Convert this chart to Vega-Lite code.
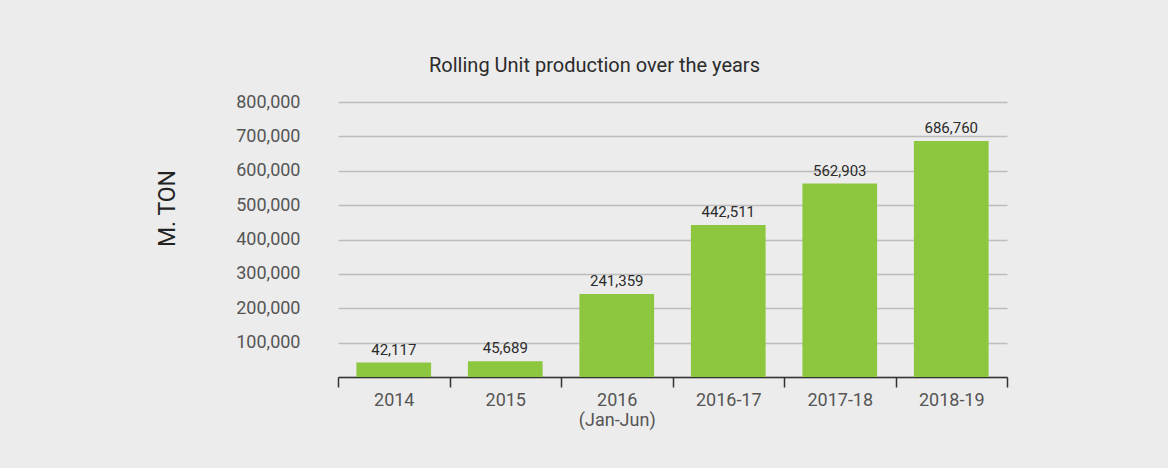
{
  "$schema": "https://vega.github.io/schema/vega-lite/v6.json",
  "autosize": {"type": "none"},
  "width": 669,
  "height": 275,
  "padding": {"left": 338, "top": 102, "right": 161, "bottom": 91},
  "background": "#ececec",
  "config": {
    "view": {"stroke": null},
    "font": "Roboto, sans-serif"
  },
  "title": {
    "text": "Rolling Unit production over the years",
    "fontSize": 20,
    "fontWeight": "normal",
    "color": "#2b2b2b",
    "anchor": "middle",
    "dx": -78,
    "offset": 17
  },
  "data": {
    "values": [
      {"period": "2014", "value": 42117},
      {"period": "2015", "value": 45689},
      {"period": "2016|(Jan-Jun)", "value": 241359},
      {"period": "2016-17", "value": 442511},
      {"period": "2017-18", "value": 562903},
      {"period": "2018-19", "value": 686760}
    ]
  },
  "encoding": {
    "x": {
      "field": "period",
      "type": "nominal",
      "sort": null,
      "scale": {"paddingInner": 0, "paddingOuter": 0},
      "axis": {
        "title": null,
        "labelAngle": 0,
        "labelExpr": "datum.value ? split(datum.value, '|') : ''",
        "labelFontSize": 18,
        "labelColor": "#555555",
        "labelPadding": 4,
        "labelLineHeight": 20,
        "domainColor": "#333333",
        "domainWidth": 1.5,
        "tickBand": "extent",
        "tickColor": "#333333",
        "tickWidth": 1.5,
        "tickSize": 10,
        "grid": false
      }
    },
    "y": {
      "field": "value",
      "type": "quantitative",
      "scale": {"domain": [0, 800000], "nice": false},
      "axis": {
        "title": "M. TON",
        "titleFontSize": 23,
        "titleFontWeight": "normal",
        "titleColor": "#222222",
        "titleX": -159,
        "titleY": 106,
        "titleAngle": 270,
        "values": [0, 100000, 200000, 300000, 400000, 500000, 600000, 700000, 800000],
        "labelOverlap": false,
        "labelExpr": "datum.value == 0 ? '' : format(datum.value, ',')",
        "labelFontSize": 18,
        "labelColor": "#555555",
        "labelPadding": 38,
        "ticks": false,
        "domain": false,
        "gridColor": "#bdbdbd",
        "gridWidth": 1.5
      }
    }
  },
  "layer": [
    {
      "mark": {"type": "bar", "color": "#8dc63f", "width": {"band": 0.67}}
    },
    {
      "mark": {"type": "text", "baseline": "bottom", "dy": -5, "fontSize": 15, "color": "#2b2b2b"},
      "encoding": {
        "text": {"field": "value", "type": "quantitative", "format": ","}
      }
    }
  ]
}
